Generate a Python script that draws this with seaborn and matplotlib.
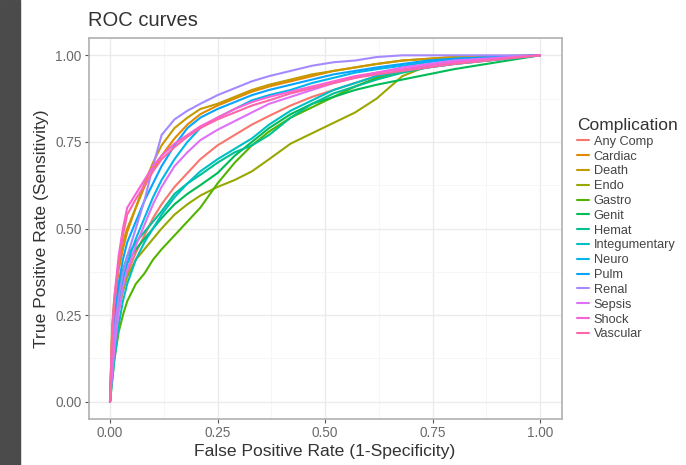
import pandas as pd
import matplotlib
matplotlib.use("Agg")
import matplotlib.pyplot as plt
import seaborn as sns
from matplotlib.patches import Rectangle

# ROC curves, one tpr list per complication on a shared fpr grid
fpr = [0, 0.005, 0.01, 0.02, 0.03, 0.04, 0.06, 0.08, 0.10, 0.12, 0.15, 0.18, 0.21,
       0.25, 0.29, 0.33, 0.37, 0.42, 0.47, 0.52, 0.57, 0.62, 0.68, 0.74, 0.80, 1.0]

complications = ["Any Comp", "Cardiac", "Death", "Endo", "Gastro", "Genit", "Hemat",
                 "Integumentary", "Neuro", "Pulm", "Renal", "Sepsis", "Shock", "Vascular"]

any_comp = [0, 0.10, 0.17, 0.26, 0.32, 0.37, 0.43, 0.48, 0.53, 0.57, 0.62, 0.66, 0.70,
            0.74, 0.77, 0.80, 0.825, 0.855, 0.88, 0.90, 0.92, 0.94, 0.955, 0.97, 0.98, 1.0]
cardiac = [0, 0.20, 0.28, 0.38, 0.44, 0.49, 0.56, 0.62, 0.67, 0.71, 0.76, 0.80, 0.83,
           0.855, 0.875, 0.895, 0.91, 0.925, 0.94, 0.955, 0.965, 0.975, 0.985, 0.99, 0.995, 1.0]
death = [0, 0.22, 0.30, 0.40, 0.46, 0.50, 0.56, 0.63, 0.69, 0.74, 0.79, 0.82, 0.845,
         0.86, 0.88, 0.90, 0.915, 0.93, 0.945, 0.955, 0.965, 0.975, 0.985, 0.99, 0.995, 1.0]
endo = [0, 0.10, 0.18, 0.27, 0.32, 0.36, 0.41, 0.44, 0.47, 0.50, 0.54, 0.57, 0.595,
        0.62, 0.64, 0.665, 0.70, 0.745, 0.775, 0.805, 0.835, 0.875, 0.94, 0.97, 0.985, 1.0]
gastro = [0, 0.06, 0.12, 0.20, 0.25, 0.29, 0.34, 0.37, 0.41, 0.44, 0.48, 0.52, 0.56,
          0.63, 0.69, 0.74, 0.78, 0.82, 0.85, 0.88, 0.91, 0.935, 0.955, 0.97, 0.98, 1.0]
genit = [0, 0.12, 0.20, 0.30, 0.36, 0.40, 0.44, 0.47, 0.50, 0.53, 0.57, 0.60, 0.625,
         0.66, 0.71, 0.75, 0.79, 0.83, 0.86, 0.88, 0.90, 0.915, 0.93, 0.945, 0.96, 1.0]
hemat = [0, 0.14, 0.22, 0.32, 0.38, 0.42, 0.46, 0.49, 0.52, 0.55, 0.60, 0.63, 0.655,
         0.69, 0.72, 0.74, 0.77, 0.82, 0.86, 0.89, 0.91, 0.93, 0.95, 0.965, 0.975, 1.0]
integumentary = [0, 0.06, 0.12, 0.22, 0.29, 0.34, 0.41, 0.46, 0.50, 0.54, 0.59, 0.63, 0.665,
                 0.70, 0.73, 0.76, 0.80, 0.84, 0.87, 0.90, 0.92, 0.94, 0.955, 0.965, 0.975, 1.0]
neuro = [0, 0.10, 0.18, 0.28, 0.35, 0.40, 0.47, 0.53, 0.59, 0.64, 0.70, 0.75, 0.79,
         0.82, 0.845, 0.87, 0.885, 0.90, 0.92, 0.935, 0.95, 0.96, 0.97, 0.98, 0.99, 1.0]
pulm = [0, 0.15, 0.24, 0.34, 0.41, 0.46, 0.52, 0.58, 0.63, 0.68, 0.74, 0.79, 0.82,
        0.845, 0.865, 0.885, 0.90, 0.915, 0.93, 0.945, 0.955, 0.965, 0.975, 0.985, 0.99, 1.0]
renal = [0, 0.12, 0.20, 0.30, 0.37, 0.42, 0.50, 0.58, 0.68, 0.77, 0.815, 0.84, 0.86,
         0.885, 0.905, 0.925, 0.94, 0.955, 0.97, 0.98, 0.985, 0.995, 1.0, 1.0, 1.0, 1.0]
sepsis = [0, 0.08, 0.15, 0.26, 0.33, 0.38, 0.45, 0.51, 0.57, 0.62, 0.68, 0.72, 0.755,
          0.785, 0.81, 0.835, 0.86, 0.88, 0.90, 0.92, 0.935, 0.95, 0.965, 0.975, 0.985, 1.0]
shock = [0, 0.20, 0.30, 0.42, 0.50, 0.56, 0.60, 0.64, 0.68, 0.71, 0.745, 0.77, 0.795,
         0.82, 0.845, 0.865, 0.88, 0.895, 0.91, 0.925, 0.94, 0.95, 0.96, 0.97, 0.98, 1.0]
vascular = [0, 0.18, 0.28, 0.40, 0.48, 0.54, 0.585, 0.625, 0.665, 0.70, 0.735, 0.765, 0.79,
            0.815, 0.835, 0.855, 0.87, 0.89, 0.905, 0.92, 0.935, 0.945, 0.955, 0.965, 0.975, 1.0]

tpr_lists = [any_comp, cardiac, death, endo, gastro, genit, hemat,
             integumentary, neuro, pulm, renal, sepsis, shock, vascular]

# ggplot default hue palette for 14 groups
colors = ["#F8766D", "#E38900", "#C49A00", "#99A800", "#53B400", "#00BC56", "#00C094",
          "#00BFC4", "#00B6EB", "#06A4FF", "#A58AFF", "#DF70F8", "#FB61D7", "#FF66A8"]

rows = []
for name, tpr in zip(complications, tpr_lists):
    for x, y in zip(fpr, tpr):
        rows.append({"Complication": name, "fpr": x, "tpr": y})
roc = pd.DataFrame(rows)

sns.set_theme(style="whitegrid")
plt.rcParams["font.family"] = ["Liberation Sans", "DejaVu Sans"]

fig = plt.figure(figsize=(6.86, 4.65), dpi=100)
fig.patches.append(Rectangle((0, 0), 20 / 686, 1, transform=fig.transFigure,
                             color="#4b4b4b", zorder=0))
ax = fig.add_axes([88.5 / 686, 46 / 465, 473 / 686, 381 / 465])

sns.lineplot(data=roc, x="fpr", y="tpr", hue="Complication", hue_order=complications,
             palette=colors, sort=False, estimator=None, units="Complication",
             linewidth=1.5, ax=ax)

ax.set_xlim(-0.05, 1.05)
ax.set_ylim(-0.05, 1.05)
ticks = [0, 0.25, 0.5, 0.75, 1.0]
tick_labels = ["0.00", "0.25", "0.50", "0.75", "1.00"]
ax.set_xticks(ticks)
ax.set_yticks(ticks)
ax.set_xticklabels(tick_labels)
ax.set_yticklabels(tick_labels)
ax.set_xticks([0.125, 0.375, 0.625, 0.875], minor=True)
ax.set_yticks([0.125, 0.375, 0.625, 0.875], minor=True)
ax.grid(which="major", color="#ebebeb", linewidth=1.0)
ax.grid(which="minor", color="#f5f5f5", linewidth=0.6)
ax.tick_params(axis="both", which="major", length=3, width=0.8, color="#555555",
               labelsize=9.8, labelcolor="#6a6a6a", pad=2, bottom=True, left=True)
ax.tick_params(axis="both", which="minor", length=0)
for s in ax.spines.values():
    s.set_color("#b0b0b0")
    s.set_linewidth(1.2)

ax.set_xlabel("False Positive Rate (1-Specificity)", fontsize=12.6, color="#333333", labelpad=3)
ax.set_ylabel("True Positive Rate (Sensitivity)", fontsize=12.6, color="#333333", labelpad=4)
fig.text(88 / 686, 1 - 20 / 465, "ROC curves", fontsize=14.5, color="#333333",
         ha="left", va="center")

sns.move_legend(ax, "upper left", bbox_to_anchor=(577 / 686, 1 - 118 / 465),
                bbox_transform=fig.transFigure, frameon=False, title="Complication",
                fontsize=9.2, title_fontsize=12.5, handlelength=0.9, handletextpad=0.4,
                labelspacing=0.22, borderaxespad=0, borderpad=0)
leg = ax.get_legend()
leg._legend_box.align = "left"
for t in leg.get_texts():
    t.set_color("#444444")
leg.get_title().set_color("#333333")

fig.savefig("out.png", dpi=100)
